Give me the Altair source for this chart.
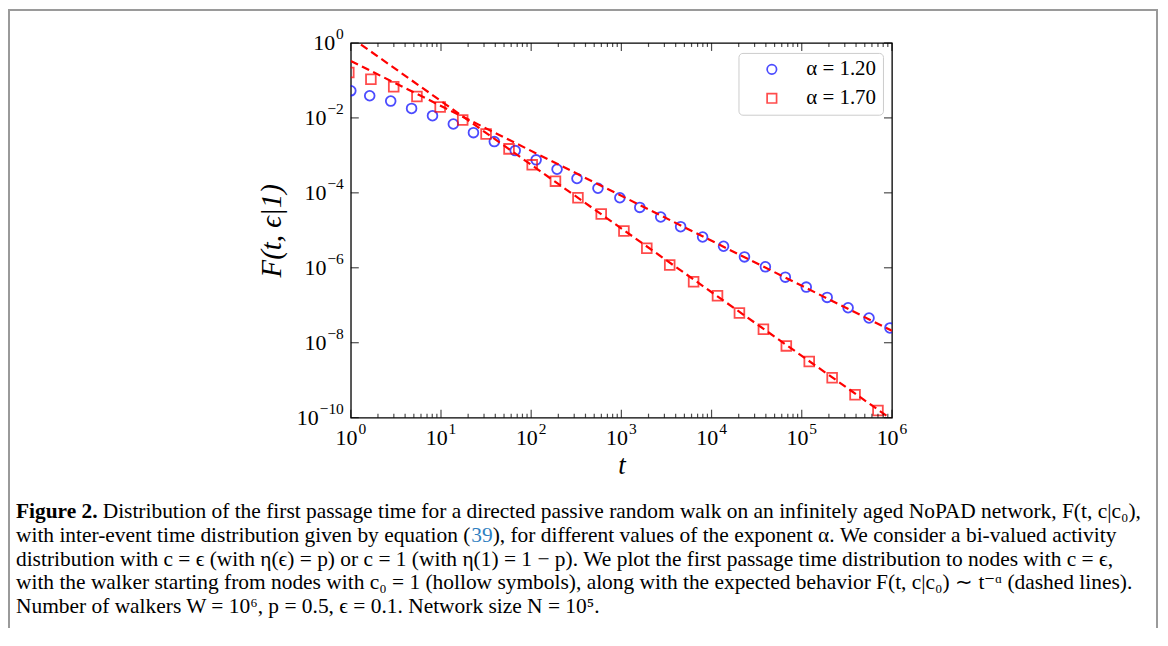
import altair as alt
import pandas as pd

# ---------------- data ----------------
blue_label = "α = 1.20"
red_label = "α = 1.70"

blue_t = [1.0, 1.62, 2.77, 4.72, 8.05, 13.7, 22.9, 39.0, 66.5, 113.5, 193.6, 322, 550,
          962, 1600, 2730, 4540, 7960, 13580, 23170, 39540, 65770, 112200, 191400,
          326600, 557200, 950600]
blue_F = [0.0528, 0.0389, 0.0281, 0.0179, 0.01146, 0.00689, 0.00404, 0.00233, 0.00134,
          7.59e-4, 4.27e-4, 2.42e-4, 1.33e-4, 7.41e-5, 4.09e-5, 2.26e-5, 1.25e-5, 6.64e-6,
          3.75e-6, 1.95e-6, 1.06e-6, 5.62e-7, 3.05e-7, 1.62e-7, 8.59e-8, 4.57e-8, 2.48e-8]

red_t = [0.95, 1.67, 2.99, 5.41, 9.79, 17.4, 31.6, 56.8, 102.6, 185.8, 330, 598, 1067,
         1914, 3436, 6324, 11640, 20370, 37580, 67450, 121100, 217300, 389900, 699800]
red_F = [0.162, 0.108, 0.0676, 0.0373, 0.0195, 0.00879, 0.00373, 0.00149, 5.58e-4,
         2.05e-4, 7.41e-5, 2.72e-5, 9.57e-6, 3.32e-6, 1.19e-6, 4.22e-7, 1.79e-7, 6.21e-8,
         2.29e-8, 8.22e-9, 3.14e-9, 1.16e-9, 4.09e-10, 1.56e-10]

# expected behaviour t^-alpha (dashed lines), endpoints
fit_t = [1, 1e6]
fit_blue_F = [0.331, 2.09e-8]
fit_red_F = [1.41, 8.9e-11]

# axis ticks and tick labels (10 with a superscript exponent)
x_major = [1, 10, 100, 1000, 1e4, 1e5, 1e6]
x_exponents = ["0", "1", "2", "3", "4", "5", "6"]
x_minor = [m * 10 ** k for k in range(6) for m in range(2, 10)]
y_major = [1, 1e-2, 1e-4, 1e-6, 1e-8, 1e-10]
y_exponents = ["0", "−2", "−4", "−6", "−8", "−10"]

caption_bold = "Figure 2."
caption_lines = [
    "Distribution of the first passage time for a directed passive random walk on an infinitely aged NoPAD network, F(t, c|c₀),",
    "with inter-event time distribution given by equation (39), for different values of the exponent α. We consider a bi-valued activity",
    "distribution with c = ϵ (with η(ϵ) = p) or c = 1 (with η(1) = 1 − p). We plot the first passage time distribution to nodes with c = ϵ,",
    "with the walker starting from nodes with c₀ = 1 (hollow symbols), along with the expected behavior F(t, c|c₀) ∼ t⁻ᵅ (dashed lines).",
    "Number of walkers W = 10⁶, p = 0.5, ϵ = 0.1. Network size N = 10⁵.",
]
line2_parts = ["with inter-event time distribution given by equation (", "39",
               "), for different values of the exponent α. We consider a bi-valued activity"]

# ---------------- layout ----------------
W, H = 543, 376
PL, PT = 344, 34
TOTAL_W, TOTAL_H = 1156, 620
SERIF = "Liberation Serif"
CAP_FS = 21.5
BASE_FS = 22      # "10" of tick labels
EXP_FS = 15.5     # exponent of tick labels

xs = alt.Scale(type="log", domain=[1, 1e6])
ys = alt.Scale(type="log", domain=[1e-10, 1])

pts = pd.concat([
    pd.DataFrame({"t": blue_t, "F": blue_F, "series": blue_label}),
    pd.DataFrame({"t": red_t, "F": red_F, "series": red_label}),
])
fits = pd.concat([
    pd.DataFrame({"t": fit_t, "F": fit_blue_F, "line": "a"}),
    pd.DataFrame({"t": fit_t, "F": fit_red_F, "line": "b"}),
])

x_axis = alt.Axis(values=x_major, labels=False, ticks=False, domain=False, grid=False,
                  title="t", titleFont=SERIF, titleFontStyle="italic", titleFontWeight="normal",
                  titleFontSize=27, titleColor="black", titleX=W / 2, titleY=48,
                  titleBaseline="middle", titleAlign="center")
y_axis = alt.Axis(values=y_major, labels=False, ticks=False, domain=False, grid=False,
                  title="F(t, ϵ|1)", titleFont=SERIF, titleFontStyle="italic",
                  titleFontWeight="normal", titleFontSize=29, titleColor="black",
                  titleX=-80, titleY=188, titleAngle=270, titleBaseline="middle",
                  titleAlign="center")

legend = alt.Legend(orient="none", legendX=389, legendY=10, title=None, padding=6,
                    symbolOffset=17, labelOffset=24, labelFont=SERIF, labelFontSize=21,
                    labelColor="black", strokeColor="#cccccc", cornerRadius=4,
                    fillColor="white", rowPadding=7, symbolSize=90, symbolStrokeWidth=1.7)

points = alt.Chart(pts).mark_point(filled=False, size=95, strokeWidth=1.8, clip=True).encode(
    x=alt.X("t:Q", scale=xs, axis=x_axis),
    y=alt.Y("F:Q", scale=ys, axis=y_axis),
    color=alt.Color("series:N", scale=alt.Scale(domain=[blue_label, red_label],
                                                range=["#0000ff", "#ff0000"]), legend=legend),
    shape=alt.Shape("series:N", scale=alt.Scale(domain=[blue_label, red_label],
                                                range=["circle", "square"]), legend=legend),
)

lines = alt.Chart(fits).mark_line(color="#ff0000", strokeDash=[8, 4.5], strokeWidth=2.2,
                                   clip=True).encode(
    x=alt.X("t:Q", scale=xs, axis=x_axis),
    y=alt.Y("F:Q", scale=ys, axis=y_axis),
    detail="line:N",
)

def xticks(vals, size, yc):
    return alt.Chart(pd.DataFrame({"t": vals})).mark_tick(
        orient="vertical", size=size, thickness=1.2, color="black").encode(
        x=alt.X("t:Q", scale=xs, axis=x_axis), y=alt.value(yc))

def yticks(vals, size, xc):
    return alt.Chart(pd.DataFrame({"F": vals})).mark_tick(
        orient="horizontal", size=size, thickness=1.2, color="black").encode(
        y=alt.Y("F:Q", scale=ys, axis=y_axis), x=alt.value(xc))

ticks = [
    xticks(x_major, 8, H - 4), xticks(x_major, 8, 4),
    xticks(x_minor, 4, H - 2), xticks(x_minor, 4, 2),
    yticks(y_major, 8, 4), yticks(y_major, 8, W - 4),
]

# ---- tick labels "10" + superscript exponent, placed through the scales ----
def times_width(s, fs):
    w = {"−": 564}
    return sum(w.get(ch, 500) for ch in s) * fs / 1000.0

base_w = times_width("10", BASE_FS)
exp_w1 = times_width("0", EXP_FS)
xlab_df = pd.DataFrame({"t": x_major, "exp": x_exponents})
half = (base_w + exp_w1 + 1) / 2
x_labels = [
    alt.Chart(xlab_df).mark_text(align="right", baseline="middle", font=SERIF,
                                 fontSize=BASE_FS, color="black", dx=half - exp_w1 - 1).encode(
        x=alt.X("t:Q", scale=xs, axis=x_axis), y=alt.value(H + 20), text=alt.value("10")),
    alt.Chart(xlab_df).mark_text(align="left", baseline="middle", font=SERIF,
                                 fontSize=EXP_FS, color="black", dx=half - exp_w1).encode(
        x=alt.X("t:Q", scale=xs, axis=x_axis), y=alt.value(H + 11), text="exp:N"),
]

y_labels = []
for v, e in zip(y_major, y_exponents):
    d = pd.DataFrame({"F": [v], "exp": [e]})
    ew = times_width(e, EXP_FS)
    y_labels.append(alt.Chart(d).mark_text(align="right", baseline="middle", font=SERIF,
                                           fontSize=EXP_FS, color="black", dy=-9).encode(
        y=alt.Y("F:Q", scale=ys, axis=y_axis), x=alt.value(-7), text="exp:N"))
    y_labels.append(alt.Chart(d).mark_text(align="right", baseline="middle", font=SERIF,
                                           fontSize=BASE_FS, color="black").encode(
        y=alt.Y("F:Q", scale=ys, axis=y_axis), x=alt.value(-7 - ew - 1), text=alt.value("10")))

# ---- figure frame and caption ----
one = pd.DataFrame({"k": [0]})
border = alt.Chart(one).mark_rect(fillOpacity=0, stroke="#9a9a9a", strokeWidth=2).encode(
    x=alt.value(9 - 352), x2=alt.value(1161 - 352), y=alt.value(9 - 42), y2=alt.value(700))

def cap_text(txt, x, y, weight="normal", color="black"):
    return alt.Chart(one).mark_text(align="left", baseline="middle", font=SERIF,
                                    fontSize=CAP_FS, fontWeight=weight, color=color).encode(
        x=alt.value(x), y=alt.value(y), text=alt.value(txt))

cap_x0 = 16 - 352
cap_y = [513 - 42 + 23.7 * i for i in range(5)]
captions = [cap_text(caption_bold, cap_x0, cap_y[0], weight="bold"),
            cap_text(caption_lines[0], 103 - 352, cap_y[0])]
em = CAP_FS / 1000.0
run1_w = 21247 * em   # Times metrics of "with inter-event time distribution given by equation ("
run2_w = 1000 * em    # "39"
captions += [cap_text(line2_parts[0], cap_x0, cap_y[1]),
             cap_text(line2_parts[1], cap_x0 + run1_w, cap_y[1], color="#2f7fc1"),
             cap_text(line2_parts[2], cap_x0 + run1_w + run2_w, cap_y[1])]
for i in (2, 3, 4):
    captions.append(cap_text(caption_lines[i], cap_x0, cap_y[i]))

chart = alt.layer(points, lines, *ticks, *x_labels, *y_labels, border, *captions).properties(
    width=W, height=H,
    padding={"left": PL, "top": PT, "right": TOTAL_W - PL - W, "bottom": TOTAL_H - PT - H},
    autosize=alt.AutoSizeParams(type="none"),
    background="white",
).configure_view(stroke="black", strokeWidth=1.3)

chart.save("out.html", embed_options={"renderer": "svg", "actions": False})
